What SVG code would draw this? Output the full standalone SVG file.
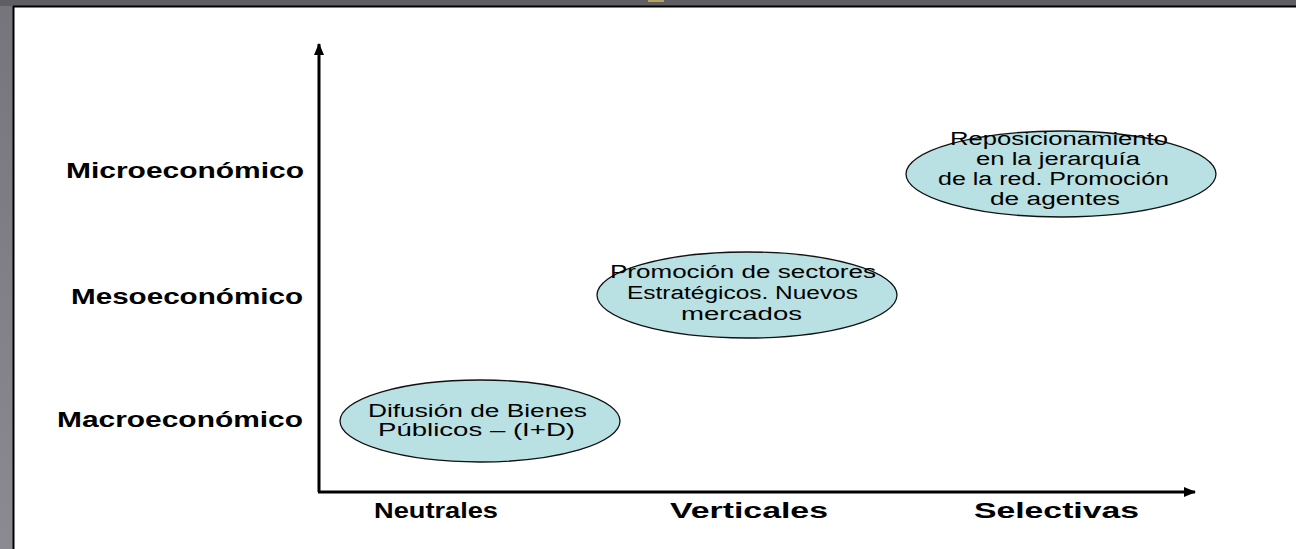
<svg xmlns="http://www.w3.org/2000/svg" width="1296" height="549" viewBox="0 0 1296 549">
<defs>
<linearGradient id="bgL" x1="0" y1="0" x2="0" y2="1"><stop offset="0" stop-color="#77757c"/><stop offset="1" stop-color="#8c8a91"/></linearGradient>
<marker id="ah" viewBox="0 0 12 10" refX="11" refY="5" markerWidth="12" markerHeight="10" markerUnits="userSpaceOnUse" orient="auto">
<path d="M0,0 L12,5 L0,10 Z" fill="#000"/>
</marker>
<style>
.lbl{font-family:"Liberation Sans",Arial,sans-serif;font-weight:bold;font-size:22px;fill:#000}
.nt{font-family:"Liberation Sans",Arial,sans-serif;font-size:18px;fill:#000}
.ell{fill:#b9e0e3;stroke:#111;stroke-width:1.3}
.axis{stroke:#000;stroke-width:3;fill:none}
</style>
</defs>
<rect x="0" y="0" width="1296" height="549" fill="url(#bgL)"/>
<rect x="0" y="0" width="1296" height="6" fill="#605e65"/>
<rect x="648" y="0" width="16" height="2" fill="#b8a060"/>
<rect x="14" y="6" width="1282" height="543" fill="#fff"/>
<line x1="13" y1="6.5" x2="1296" y2="6.5" stroke="#000" stroke-width="2"/>
<line x1="13.5" y1="6" x2="13.5" y2="549" stroke="#000" stroke-width="2"/>
<g id="connectors">
<path class="axis" d="M319,492 L319,44" marker-end="url(#ah)"/>
<path class="axis" d="M318,492 L1195,492" marker-end="url(#ah)"/>
</g>
<g id="ylabels">
<text class="lbl" x="66" y="178" textLength="238" lengthAdjust="spacingAndGlyphs">Microeconómico</text>
<text class="lbl" x="71" y="304" textLength="232" lengthAdjust="spacingAndGlyphs">Mesoeconómico</text>
<text class="lbl" x="57" y="427" textLength="246" lengthAdjust="spacingAndGlyphs">Macroeconómico</text>
</g>
<g id="xlabels">
<text class="lbl" x="374" y="518" textLength="124" lengthAdjust="spacingAndGlyphs">Neutrales</text>
<text class="lbl" x="670" y="518" textLength="158" lengthAdjust="spacingAndGlyphs">Verticales</text>
<text class="lbl" x="974" y="518" textLength="165" lengthAdjust="spacingAndGlyphs">Selectivas</text>
</g>
<g id="node-neutrales">
<ellipse class="ell" cx="480" cy="421" rx="140" ry="41"/>
<text class="nt" x="368" y="417" textLength="219" lengthAdjust="spacingAndGlyphs">Difusión de Bienes</text>
<text class="nt" x="378" y="436" textLength="197" lengthAdjust="spacingAndGlyphs">Públicos – (I+D)</text>
</g>
<g id="node-verticales">
<ellipse class="ell" cx="747" cy="295" rx="150" ry="43"/>
<text class="nt" x="610" y="278" textLength="266" lengthAdjust="spacingAndGlyphs">Promoción de sectores</text>
<text class="nt" x="627" y="299" textLength="231" lengthAdjust="spacingAndGlyphs">Estratégicos. Nuevos</text>
<text class="nt" x="681" y="320" textLength="121" lengthAdjust="spacingAndGlyphs">mercados</text>
</g>
<g id="node-selectivas">
<ellipse class="ell" cx="1061" cy="174" rx="155" ry="43"/>
<text class="nt" x="950" y="145" textLength="218" lengthAdjust="spacingAndGlyphs">Reposicionamiento</text>
<text class="nt" x="976" y="165" textLength="164" lengthAdjust="spacingAndGlyphs">en la jerarquía</text>
<text class="nt" x="938" y="185" textLength="231" lengthAdjust="spacingAndGlyphs">de la red. Promoción</text>
<text class="nt" x="990" y="205" textLength="130" lengthAdjust="spacingAndGlyphs">de agentes</text>
</g>
</svg>
